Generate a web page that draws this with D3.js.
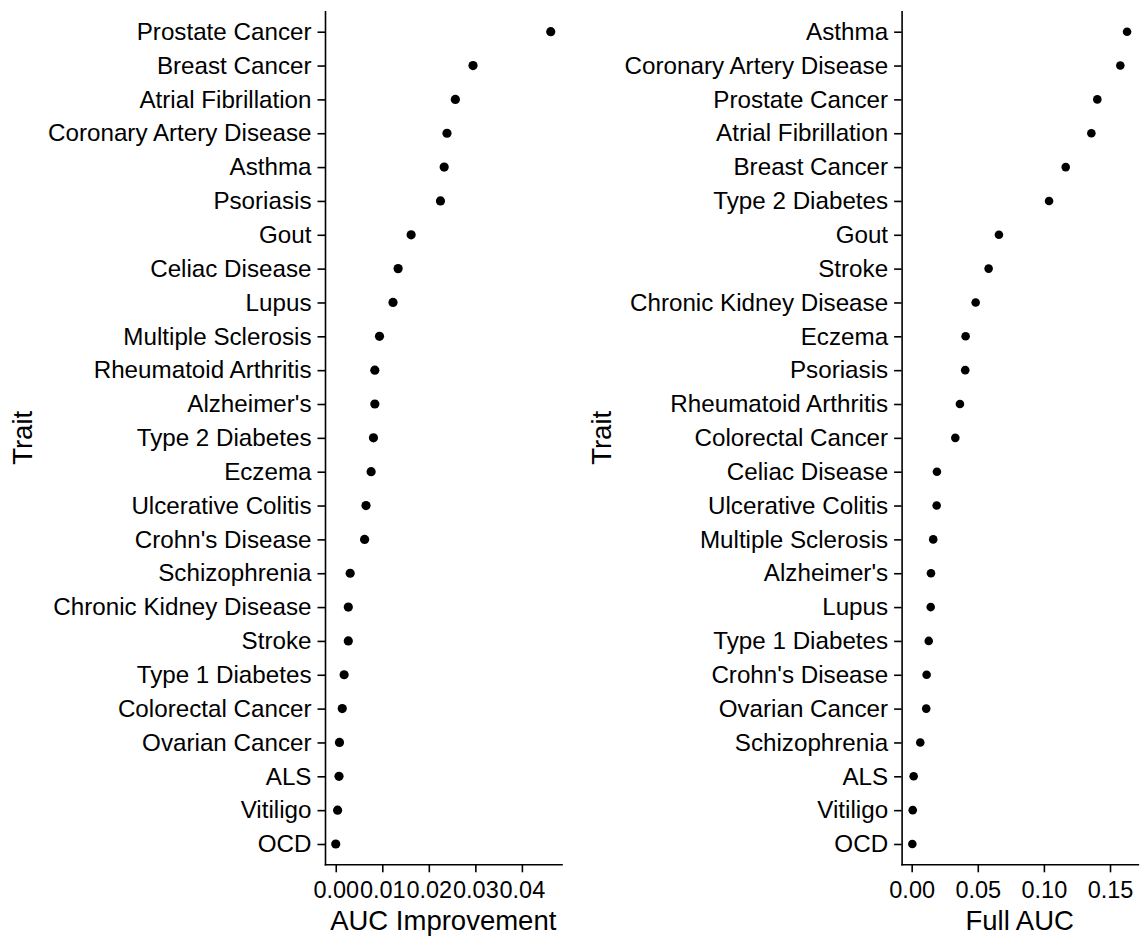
<!DOCTYPE html>
<html>
<head>
<meta charset="utf-8">
<style>
  body { margin: 0; background: #fff; }
  svg { display: block; }
  .axis path, .axis line { stroke: #000; stroke-width: 1.6px; }
  .axis text { font-family: "Liberation Sans", Arial, sans-serif; font-size: 23.5px; fill: #000; }
  .yaxis text { font-size: 24.2px; }
  .title { font-family: "Liberation Sans", Arial, sans-serif; font-size: 27.5px; fill: #000; }
</style>
</head>
<body>
<svg id="chart" width="1141" height="942"></svg>
<script src="https://cdn.jsdelivr.net/npm/d3@7"></script>
<script>
// left panel: AUC improvement, top to bottom
var impTraits = ["Prostate Cancer", "Breast Cancer", "Atrial Fibrillation", "Coronary Artery Disease",
  "Asthma", "Psoriasis", "Gout", "Celiac Disease", "Lupus", "Multiple Sclerosis",
  "Rheumatoid Arthritis", "Alzheimer's", "Type 2 Diabetes", "Eczema", "Ulcerative Colitis",
  "Crohn's Disease", "Schizophrenia", "Chronic Kidney Disease", "Stroke", "Type 1 Diabetes",
  "Colorectal Cancer", "Ovarian Cancer", "ALS", "Vitiligo", "OCD"];
var impValues = [0.0462, 0.0295, 0.0257, 0.0239, 0.0233, 0.0225, 0.0162, 0.0134, 0.0123, 0.0094,
  0.0084, 0.0084, 0.0081, 0.0076, 0.0065, 0.0062, 0.0031, 0.0027, 0.0027, 0.0018,
  0.0014, 0.0008, 0.0007, 0.0004, 0.0000];
var impTicks = [0, 0.01, 0.02, 0.03, 0.04];

// right panel: full AUC, top to bottom
var fullTraits = ["Asthma", "Coronary Artery Disease", "Prostate Cancer", "Atrial Fibrillation",
  "Breast Cancer", "Type 2 Diabetes", "Gout", "Stroke", "Chronic Kidney Disease", "Eczema",
  "Psoriasis", "Rheumatoid Arthritis", "Colorectal Cancer", "Celiac Disease", "Ulcerative Colitis",
  "Multiple Sclerosis", "Alzheimer's", "Lupus", "Type 1 Diabetes", "Crohn's Disease",
  "Ovarian Cancer", "Schizophrenia", "ALS", "Vitiligo", "OCD"];
var fullValues = [0.1629, 0.1578, 0.1404, 0.1359, 0.1165, 0.1039, 0.0660, 0.0582, 0.0484, 0.0408,
  0.0405, 0.0365, 0.0330, 0.0191, 0.0189, 0.0163, 0.0146, 0.0144, 0.0129, 0.0113,
  0.0110, 0.0065, 0.0015, 0.0008, 0.0005];
var fullTicks = [0, 0.05, 0.10, 0.15];

var svg = d3.select("#chart");
var yTop = 11.4, yBottom = 864.3;

function panel(traits, values, ticks, x0, x1, xTitle, yTitleX, r) {
  var data = traits.map(function(t, i) { return {trait: t, value: values[i]}; });

  // ggplot style 5% expansion on the value axis
  var ext = d3.extent(values);
  var pad = (ext[1] - ext[0]) * 0.05;
  var x = d3.scaleLinear().domain([ext[0] - pad, ext[1] + pad]).range([x0, x1]);
  var y = d3.scalePoint().domain(traits).range([yTop, yBottom]).padding(0.6);

  svg.append("g")
    .attr("class", "axis")
    .attr("transform", "translate(0," + yBottom + ")")
    .call(d3.axisBottom(x).tickValues(ticks).tickFormat(d3.format(".2f"))
      .tickSizeInner(8).tickSizeOuter(0).tickPadding(9));

  svg.append("g")
    .attr("class", "axis yaxis")
    .attr("transform", "translate(" + x0 + ",0)")
    .call(d3.axisLeft(y).tickSizeInner(7.5).tickSizeOuter(0).tickPadding(6));

  svg.selectAll(".axis .domain").attr("stroke-linecap", "square");

  svg.append("g").selectAll("circle")
    .data(data)
    .join("circle")
      .attr("cx", function(d) { return x(d.value); })
      .attr("cy", function(d) { return y(d.trait); })
      .attr("r", r)
      .attr("fill", "#000");

  svg.append("text")
    .attr("class", "title")
    .attr("x", (x0 + x1) / 2)
    .attr("y", 930)
    .attr("text-anchor", "middle")
    .text(xTitle);

  svg.append("text")
    .attr("class", "title")
    .attr("transform", "translate(" + yTitleX + "," + (yTop + yBottom) / 2 + ") rotate(-90)")
    .attr("text-anchor", "middle")
    .text("Trait");
}

panel(impTraits, impValues, impTicks, 325, 561.5, "AUC Improvement", 32, 4.6);
panel(fullTraits, fullValues, fullTicks, 901.6, 1137.8, "Full AUC", 610.5, 4.3);
</script>
</body>
</html>
